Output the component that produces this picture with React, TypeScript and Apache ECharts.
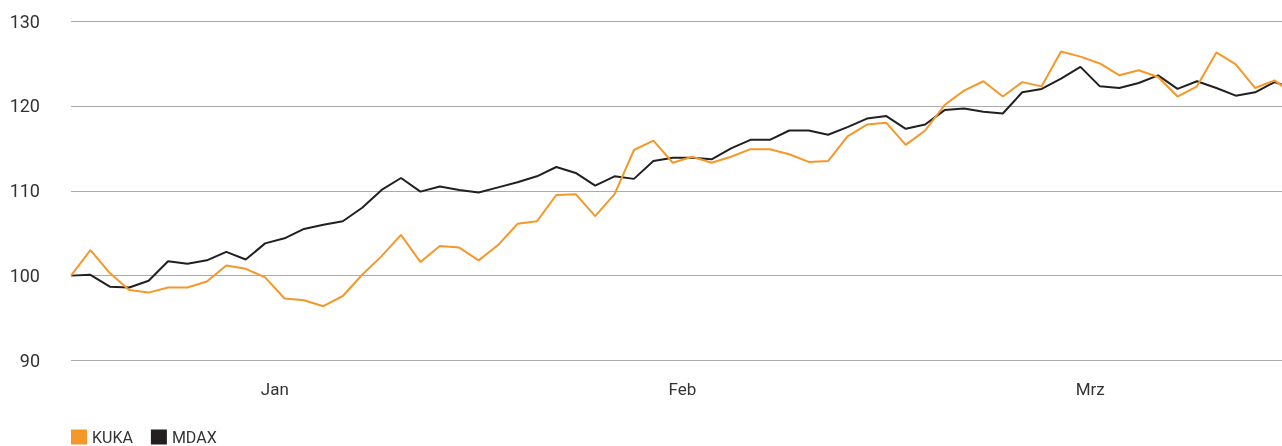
import React, { useEffect, useRef } from "react";
import * as echarts from "echarts";

const months = ["Jan", "Feb", "Mrz"];
const yTicks = { min: 90, max: 130, step: 10 };

const kuka = [
  100.0, 103.0, 100.3, 98.3, 98.0, 98.6, 98.6, 99.3, 101.2, 100.8,
  99.8, 97.3, 97.1, 96.4, 97.6, 100.1, 102.3, 104.8, 101.6, 103.5,
  103.3, 101.8, 103.6, 106.1, 106.4, 109.5, 109.6, 107.0, 109.6, 114.8,
  115.9, 113.3, 114.0, 113.3, 114.0, 114.9, 114.9, 114.3, 113.4, 113.5,
  116.4, 117.8, 118.0, 115.4, 117.1, 120.1, 121.8, 122.9, 121.1, 122.8,
  122.3, 126.4, 125.8, 125.0, 123.6, 124.2, 123.4, 121.1, 122.3, 126.3,
  124.9, 122.1, 123.0, 121.3,
];

const mdax = [
  100.0, 100.1, 98.7, 98.6, 99.4, 101.7, 101.4, 101.8, 102.8, 101.9,
  103.8, 104.4, 105.5, 106.0, 106.4, 108.0, 110.1, 111.5, 109.9, 110.5,
  110.1, 109.8, 110.4, 111.0, 111.7, 112.8, 112.1, 110.6, 111.7, 111.4,
  113.5, 113.9, 113.9, 113.7, 115.0, 116.0, 116.0, 117.1, 117.1, 116.6,
  117.5, 118.5, 118.8, 117.3, 117.8, 119.5, 119.7, 119.3, 119.1, 121.6,
  122.0, 123.2, 124.6, 122.3, 122.1, 122.7, 123.6, 122.0, 122.9, 122.1,
  121.2, 121.6, 122.8, 122.0,
];

const seriesNames = ["KUKA", "MDAX"];
const colors = { KUKA: "#F5982A", MDAX: "#231F20" };

export default function App() {
  const ref = useRef<HTMLDivElement>(null);
  useEffect(() => {
    if (!ref.current) return;
    const chart = echarts.init(ref.current, undefined, { renderer: "svg" });
    const font = "Roboto, 'Noto Sans', sans-serif";
    chart.setOption({
      animation: false,
      textStyle: { fontFamily: font },
      grid: { left: 71, right: 0, top: 21, bottom: 85.5, containLabel: false, outerBoundsMode: "none" },
      legend: {
        data: seriesNames.map((n) => ({ name: n, icon: "rect" })),
        left: 71,
        top: 429,
        padding: 0,
        itemWidth: 16,
        itemHeight: 15,
        itemGap: 18,
        textStyle: { fontSize: 16, color: "#333", fontFamily: font, padding: [2, 0, 0, 0] },
      },
      xAxis: [
        { type: "value", min: 0, max: kuka.length - 1, show: false },
        {
          type: "category",
          data: months,
          boundaryGap: true,
          position: "bottom",
          axisLine: { show: false },
          axisTick: { show: false },
          splitLine: { show: false },
          axisLabel: { fontSize: 17, color: "#333", margin: 20, fontFamily: font },
        },
      ],
      yAxis: {
        type: "value",
        min: yTicks.min,
        max: yTicks.max,
        interval: yTicks.step,
        axisLine: { show: false },
        axisTick: { show: false },
        splitLine: { lineStyle: { color: "#ababab", width: 1 } },
        axisLabel: { fontSize: 18, color: "#333", margin: 31, fontFamily: font },
      },
      series: [
        {
          name: "MDAX",
          type: "line",
          xAxisIndex: 0,
          data: mdax.map((v, i) => [i, v]),
          showSymbol: false,
          color: colors.MDAX,
          lineStyle: { width: 2, color: colors.MDAX },
        },
        {
          name: "KUKA",
          type: "line",
          xAxisIndex: 0,
          data: kuka.map((v, i) => [i, v]),
          showSymbol: false,
          color: colors.KUKA,
          lineStyle: { width: 2, color: colors.KUKA },
        },
      ],
    });
    return () => chart.dispose();
  }, []);
  return (
    <div
      ref={ref}
      style={{ position: "fixed", left: 0, top: 0, width: 1294, height: 446 }}
    />
  );
}
